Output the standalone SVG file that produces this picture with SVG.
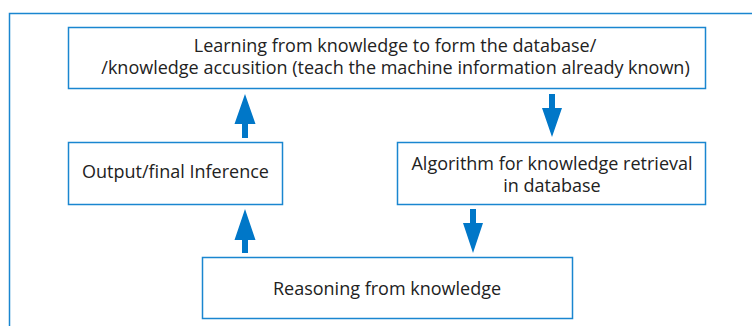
<svg xmlns="http://www.w3.org/2000/svg" width="752" height="326" viewBox="0 0 752 326">
<style>
.box{fill:#fff;stroke:#1a86d0;stroke-width:1.5}
.frame{fill:none;stroke:#1a86d0;stroke-width:1.5}
.t{font-family:"Open Sans","Noto Sans",sans-serif;font-size:18px;fill:#222;text-anchor:middle}
.arr{fill:#0077c8}
</style>
<rect width="752" height="326" fill="#fff"/>
<rect class="frame" x="9.5" y="13.5" width="800" height="400"/>
<g id="learning">
<rect class="box" x="68.5" y="27.5" width="637" height="61"/>
<text class="t" x="395" y="52">Learning from knowledge to form the database/</text>
<text class="t" x="395.5" y="74">/knowledge accusition (teach the machine information already known)</text>
</g>
<g id="output">
<rect class="box" x="68.5" y="142.5" width="214" height="62"/>
<text class="t" x="175.5" y="178">Output/final Inference</text>
</g>
<g id="algorithm">
<rect class="box" x="397.5" y="142.5" width="308" height="62"/>
<text class="t" x="552" y="170">Algorithm for knowledge retrieval</text>
<text class="t" x="552" y="192">in database</text>
</g>
<g id="reasoning">
<rect class="box" x="202.5" y="257.5" width="370" height="61"/>
<text class="t" x="387" y="295">Reasoning from knowledge</text>
</g>
<g id="connectors">
<polygon class="arr" points="245,94 255.5,124 248,124 248,138 242,138 242,124 234.5,124"/>
<polygon class="arr" points="245,209 255.5,240 248,240 248,253 242,253 242,240 234.5,240"/>
<polygon class="arr" points="552,137 562,108 555,108 555,94 549,94 549,108 542,108"/>
<polygon class="arr" points="473,253 483,223 476,223 476,209 470,209 470,223 463,223"/>
</g>
</svg>
